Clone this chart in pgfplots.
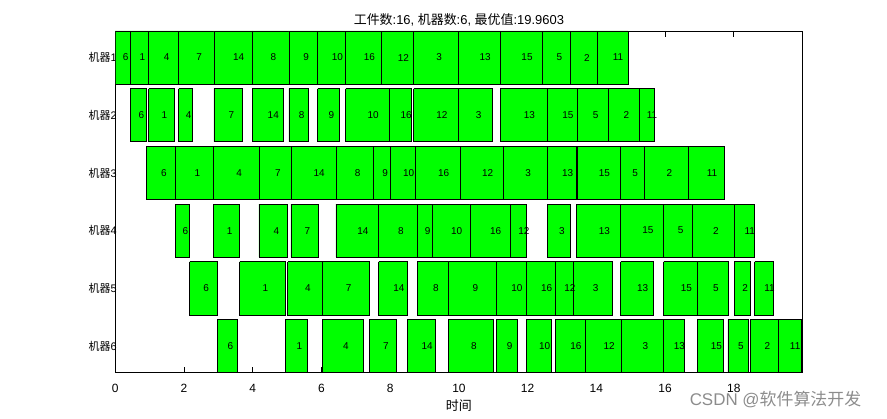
\documentclass[border=0pt]{standalone}
\usepackage{pgfplots}
\pgfplotsset{compat=1.18}
\usepackage{pgfplotstable}
\usepackage{fontspec}
\setmainfont{Liberation Sans}
\newfontfamily\cjk{Noto Sans CJK SC}

\pgfplotstableread{
m s e job
1 0 0.43 6
1 0.43 0.97 1
1 0.97 1.84 4
1 1.84 2.87 7
1 2.87 3.98 14
1 3.98 5.05 8
1 5.05 5.89 9
1 5.89 6.70 10
1 6.70 7.75 16
1 7.75 8.68 12
1 8.68 9.99 3
1 9.99 11.20 13
1 11.20 12.43 15
1 12.43 13.24 5
1 13.24 14.03 2
1 14.03 14.92 11
2 0.43 0.91 6
2 0.97 1.71 1
2 1.84 2.25 4
2 2.87 3.71 7
2 3.98 4.88 14
2 5.05 5.63 8
2 5.89 6.51 9
2 6.70 7.97 10
2 7.97 8.62 16
2 8.68 9.99 12
2 9.99 10.98 3
2 11.20 12.57 13
2 12.57 13.44 15
2 13.44 14.34 5
2 14.34 15.24 2
2 15.24 15.69 11
3 0.91 1.74 6
3 1.74 2.86 1
3 2.86 4.18 4
3 4.18 5.11 7
3 5.11 6.42 14
3 6.42 7.52 8
3 7.52 8.01 9
3 8.01 8.73 10
3 8.73 10.05 16
3 10.05 11.29 12
3 11.29 12.57 3
3 12.57 13.42 13
3 13.44 14.70 15
3 14.70 15.39 5
3 15.39 16.69 2
3 16.69 17.73 11
4 1.74 2.16 6
4 2.86 3.62 1
4 4.18 5.02 4
4 5.11 5.90 7
4 6.42 7.66 14
4 7.66 8.79 8
4 8.79 9.22 9
4 9.22 10.32 10
4 10.32 11.49 16
4 11.49 11.96 12
4 12.57 13.25 3
4 13.42 14.71 13
4 14.71 15.96 15
4 15.96 16.78 5
4 16.78 18.01 2
4 18.01 18.61 11
5 2.16 2.96 6
5 3.62 4.95 1
5 5.02 6.02 4
5 6.02 7.39 7
5 7.66 8.51 14
5 8.79 9.70 8
5 9.70 11.08 9
5 11.08 11.96 10
5 11.96 12.81 16
5 12.81 13.32 12
5 13.32 14.46 3
5 14.71 15.65 13
5 15.96 16.95 15
5 16.95 17.83 5
5 18.01 18.48 2
5 18.61 19.16 11
6 2.96 3.56 6
6 4.95 5.59 1
6 6.02 7.23 4
6 7.39 8.19 7
6 8.51 9.31 14
6 9.70 11.00 8
6 11.08 11.70 9
6 11.96 12.70 10
6 12.81 13.67 16
6 13.67 14.74 12
6 14.74 15.94 3
6 15.94 16.56 13
6 16.95 17.70 15
6 17.83 18.41 5
6 18.48 19.30 2
6 19.30 19.96 11
}\jobs

\pgfplotstablegetrowsof{\jobs}
\pgfmathtruncatemacro{\lastrow}{\pgfplotsretval-1}

\begin{document}
\begin{tikzpicture}
\useasboundingbox (0,0) rectangle (887bp,419bp);
\begin{axis}[
  at={(115.3bp,46.5bp)}, anchor=south west,
  scale only axis, width=687.2bp, height=341.5bp,
  xmin=0, xmax=20, ymin=0.54, ymax=6.46, y dir=reverse,
  xtick={0,2,...,18},
  ytick={1,2,3,4,5,6},
  yticklabels={{\cjk 机器}1,{\cjk 机器}2,{\cjk 机器}3,{\cjk 机器}4,{\cjk 机器}5,{\cjk 机器}6},
  /pgf/number format/assume math mode=true,
  tick align=inside,
  major tick length=6bp,
  ytick style={draw=none},
  xtick style={black, line width=0.6bp},
  axis line style={black, line width=0.8bp},
  xticklabel style={anchor=center, inner sep=0pt, yshift=-15.5bp, font=\fontsize{12}{14}\selectfont},
  yticklabel style={anchor=east, inner sep=0pt, xshift=1.5bp, font=\fontsize{11}{13}\selectfont},
  every axis title shift=0pt,
  title={{\cjk 工件数}:16, {\cjk 机器数}:6, {\cjk 最优值}:19.9603},
  title style={at={(0.5,1)}, anchor=base, yshift=6.5bp, inner sep=0pt, font=\fontsize{13}{15}\selectfont},
  xlabel={{\cjk 时间}},
  xlabel style={at={(axis description cs:0.5,0)}, anchor=center, yshift=-33.5bp, inner sep=0pt, font=\fontsize{13}{15}\selectfont},
]
\pgfplotsforeachungrouped \i in {0,...,\lastrow}{%
  \pgfplotstablegetelem{\i}{m}\of\jobs \let\jm\pgfplotsretval
  \pgfplotstablegetelem{\i}{s}\of\jobs \let\js\pgfplotsretval
  \pgfplotstablegetelem{\i}{e}\of\jobs \let\je\pgfplotsretval
  \pgfmathsetmacro{\jlo}{\jm-0.46}%
  \pgfmathsetmacro{\jhi}{\jm+0.46}%
  \edef\temp{\noexpand\addplot[draw=black, fill={rgb,255:red,0;green,255;blue,0}, line width=0.6bp, mark=none] coordinates {(\js,\jlo) (\je,\jlo) (\je,\jhi) (\js,\jhi) (\js,\jlo)};}%
  \temp
}
\addplot[draw=none, mark=none, nodes near coords, point meta=explicit symbolic,
  nodes near coords style={anchor=west, inner sep=0pt, text=black, font=\fontsize{10}{12}\selectfont}]
  table[x expr={(\thisrow{s}+\thisrow{e})/2}, y=m, meta=job] {\jobs};
\end{axis}
\node[font=\fontsize{17}{19}\selectfont, text=black!45, inner sep=0pt] at (775.5bp,19bp) {CSDN @{\cjk 软件算法开发}};
\end{tikzpicture}
\end{document}
